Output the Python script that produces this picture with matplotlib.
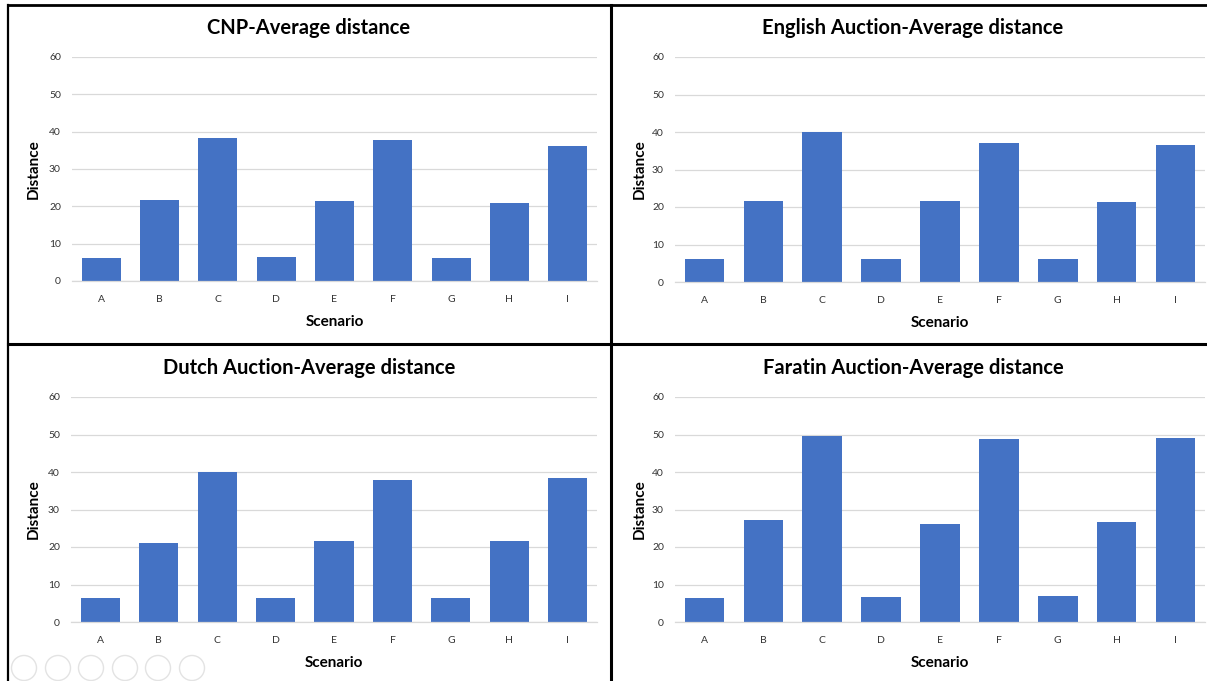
import matplotlib.pyplot as plt
from matplotlib.lines import Line2D
from matplotlib.patches import Ellipse

# Data
scenarios = ['A', 'B', 'C', 'D', 'E', 'F', 'G', 'H', 'I']
cnp = [6.1, 21.7, 38.4, 6.3, 21.3, 37.7, 6.1, 20.8, 36.2]
english = [6.1, 21.7, 40.0, 6.1, 21.7, 37.1, 6.1, 21.4, 36.6]
dutch = [6.3, 21.0, 40.0, 6.3, 21.5, 37.8, 6.5, 21.7, 38.3]
faratin = [6.5, 27.1, 49.7, 6.8, 26.2, 48.8, 7.0, 26.7, 49.0]
titles = ['CNP-Average distance', 'English Auction-Average distance',
          'Dutch Auction-Average distance', 'Faratin Auction-Average distance']

W, H = 1207, 681
BAR = '#4472C4'
GRID = '#D9D9D9'
FONT = 'Lato'

fig = plt.figure(figsize=(W / 100, H / 100), dpi=100)
fig.patch.set_facecolor('white')


def px_rect(x0, y0, x1, y1):
    # pixel box (top-left origin) -> figure fraction rect
    return [x0 / W, 1 - y1 / H, (x1 - x0) / W, (y1 - y0) / H]


panels = [
    # axes box, title centre, ylabel x
    ((72, 57, 597, 281), (309, 28), 34),
    ((675, 57, 1205, 282), (913, 28), 640),
    ((71, 397, 597, 622), (309, 368), 34),
    ((675, 397, 1205, 622), (913, 368), 640),
]
series = [cnp, english, dutch, faratin]

for (box, tpos, ylx), vals, title in zip(panels, series, titles):
    ax = fig.add_axes(px_rect(*box))
    x = range(len(scenarios))
    ax.bar(x, vals, width=0.67, color=BAR, zorder=2)
    ax.set_xlim(-0.5, len(scenarios) - 0.5)
    ax.set_ylim(0, 60)
    ax.set_yticks(range(0, 61, 10))
    ax.set_xticks(list(x))
    ax.set_xticklabels(scenarios)
    ax.grid(axis='y', color=GRID, linewidth=0.9, zorder=0)
    for s in ['top', 'right', 'left']:
        ax.spines[s].set_visible(False)
    ax.spines['bottom'].set_color(GRID)
    ax.spines['bottom'].set_linewidth(0.9)
    ax.tick_params(length=0, labelsize=7.5, colors='#333333', pad=8)
    ax.tick_params(axis='x', pad=10)
    for lbl in ax.get_xticklabels() + ax.get_yticklabels():
        lbl.set_fontfamily(FONT)
    ax.set_xlabel('Scenario', fontsize=11, fontweight='bold', family=FONT, labelpad=8)

    fig.text(tpos[0] / W, 1 - tpos[1] / H, title, ha='center', va='center',
             fontsize=14.5, fontweight='bold', family=FONT)
    fig.text(ylx / W, 1 - (box[1] + box[3]) / 2 / H, 'Distance', rotation=90,
             ha='center', va='center', fontsize=11, fontweight='bold', family=FONT)

# panel frame lines
def hline(y, x0, x1, lw):
    fig.add_artist(Line2D([x0 / W, x1 / W], [1 - y / H, 1 - y / H], color='black', linewidth=lw))


def vline(x, y0, y1, lw):
    fig.add_artist(Line2D([x / W, x / W], [1 - y0 / H, 1 - y1 / H], color='black', linewidth=lw))


hline(5, 8, W, 2.0)
hline(344, 8, W, 2.2)
vline(8, 5, H, 1.6)
vline(611, 5, H, 2.2)

# faint slideshow controls in the lower-left corner
for cx in [24, 58, 91, 125, 158, 192]:
    fig.add_artist(Ellipse((cx / W, 1 - 668 / H), 25 / W, 25 / H, transform=fig.transFigure,
                           fill=False, edgecolor='#E3E3E3', linewidth=1.0))

fig.savefig('out.png', dpi=100)
